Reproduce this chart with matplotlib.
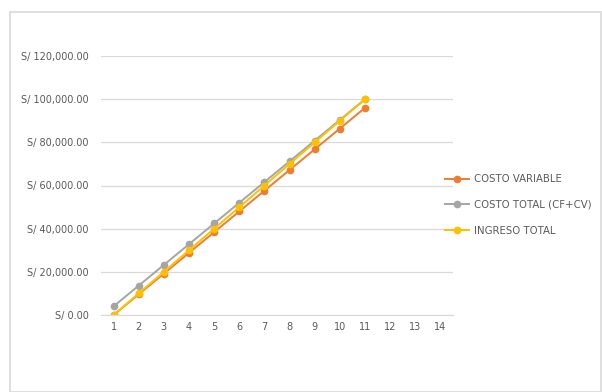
import matplotlib
matplotlib.use("Agg")
import matplotlib.pyplot as plt
from matplotlib.patches import Rectangle
from matplotlib.lines import Line2D

# Break-even data (units 1..11)
units = [1, 2, 3, 4, 5, 6, 7, 8, 9, 10, 11]
costo_variable = [0, 9600, 19200, 28800, 38400, 48000, 57600, 67200, 76800, 86400, 96000]
costo_total = [4000, 13600, 23200, 32800, 42400, 52000, 61600, 71200, 80800, 90400, 100000]
ingreso_total = [0, 10000, 20000, 30000, 40000, 50000, 60000, 70000, 80000, 90000, 100000]

x_ticks = list(range(1, 15))
y_ticks = [0, 20000, 40000, 60000, 80000, 100000, 120000]
y_labels = ["S/ 0.00", "S/ 20,000.00", "S/ 40,000.00", "S/ 60,000.00",
            "S/ 80,000.00", "S/ 100,000.00", "S/ 120,000.00"]
series_names = ["COSTO VARIABLE", "COSTO TOTAL (CF+CV)", "INGRESO TOTAL"]
colors = ["#ED7D31", "#A5A5A5", "#FFC000"]

W, H = 602, 392
fig = plt.figure(figsize=(W / 100, H / 100), dpi=100)
fig.patch.set_facecolor("white")

# chart frame
fig.add_artist(Rectangle((10 / W, 0), (W - 11) / W, (H - 12) / H,
                         transform=fig.transFigure, fill=False,
                         edgecolor="#d9d9d9", linewidth=1.2))

ax = fig.add_axes([101 / W, (H - 315) / H, 352 / W, (315 - 56) / H])
for name, vals, c in zip(series_names, [costo_variable, costo_total, ingreso_total], colors):
    ax.plot(units, vals, color=c, linewidth=1.4, marker="o", markersize=4.5,
            markerfacecolor=c, markeredgecolor=c, label=name)

ax.set_xlim(0.5, 14.5)
ax.set_ylim(0, 120000)
ax.set_xticks(x_ticks)
ax.set_xticklabels([str(t) for t in x_ticks])
ax.set_yticks(y_ticks)
ax.set_yticklabels(y_labels)
ax.tick_params(axis="both", length=0, labelsize=7, labelcolor="#595959")
ax.tick_params(axis="y", pad=9)
ax.tick_params(axis="x", pad=5)
ax.grid(axis="y", color="#d9d9d9", linewidth=0.9)
ax.set_axisbelow(True)
for s in ["top", "right", "left"]:
    ax.spines[s].set_visible(False)
ax.spines["bottom"].set_color("#d9d9d9")

handles = [Line2D([0], [0], color=c, marker="o", markersize=4.5, linewidth=1.4)
           for c in colors]
fig.legend(handles, series_names, loc="upper left",
           bbox_to_anchor=(436 / W, (H - 165) / H), frameon=False,
           fontsize=7.3, labelcolor="#595959", handlelength=2.4,
           handletextpad=0.4, labelspacing=1.55)

fig.savefig("out.png", dpi=100, facecolor="white")
